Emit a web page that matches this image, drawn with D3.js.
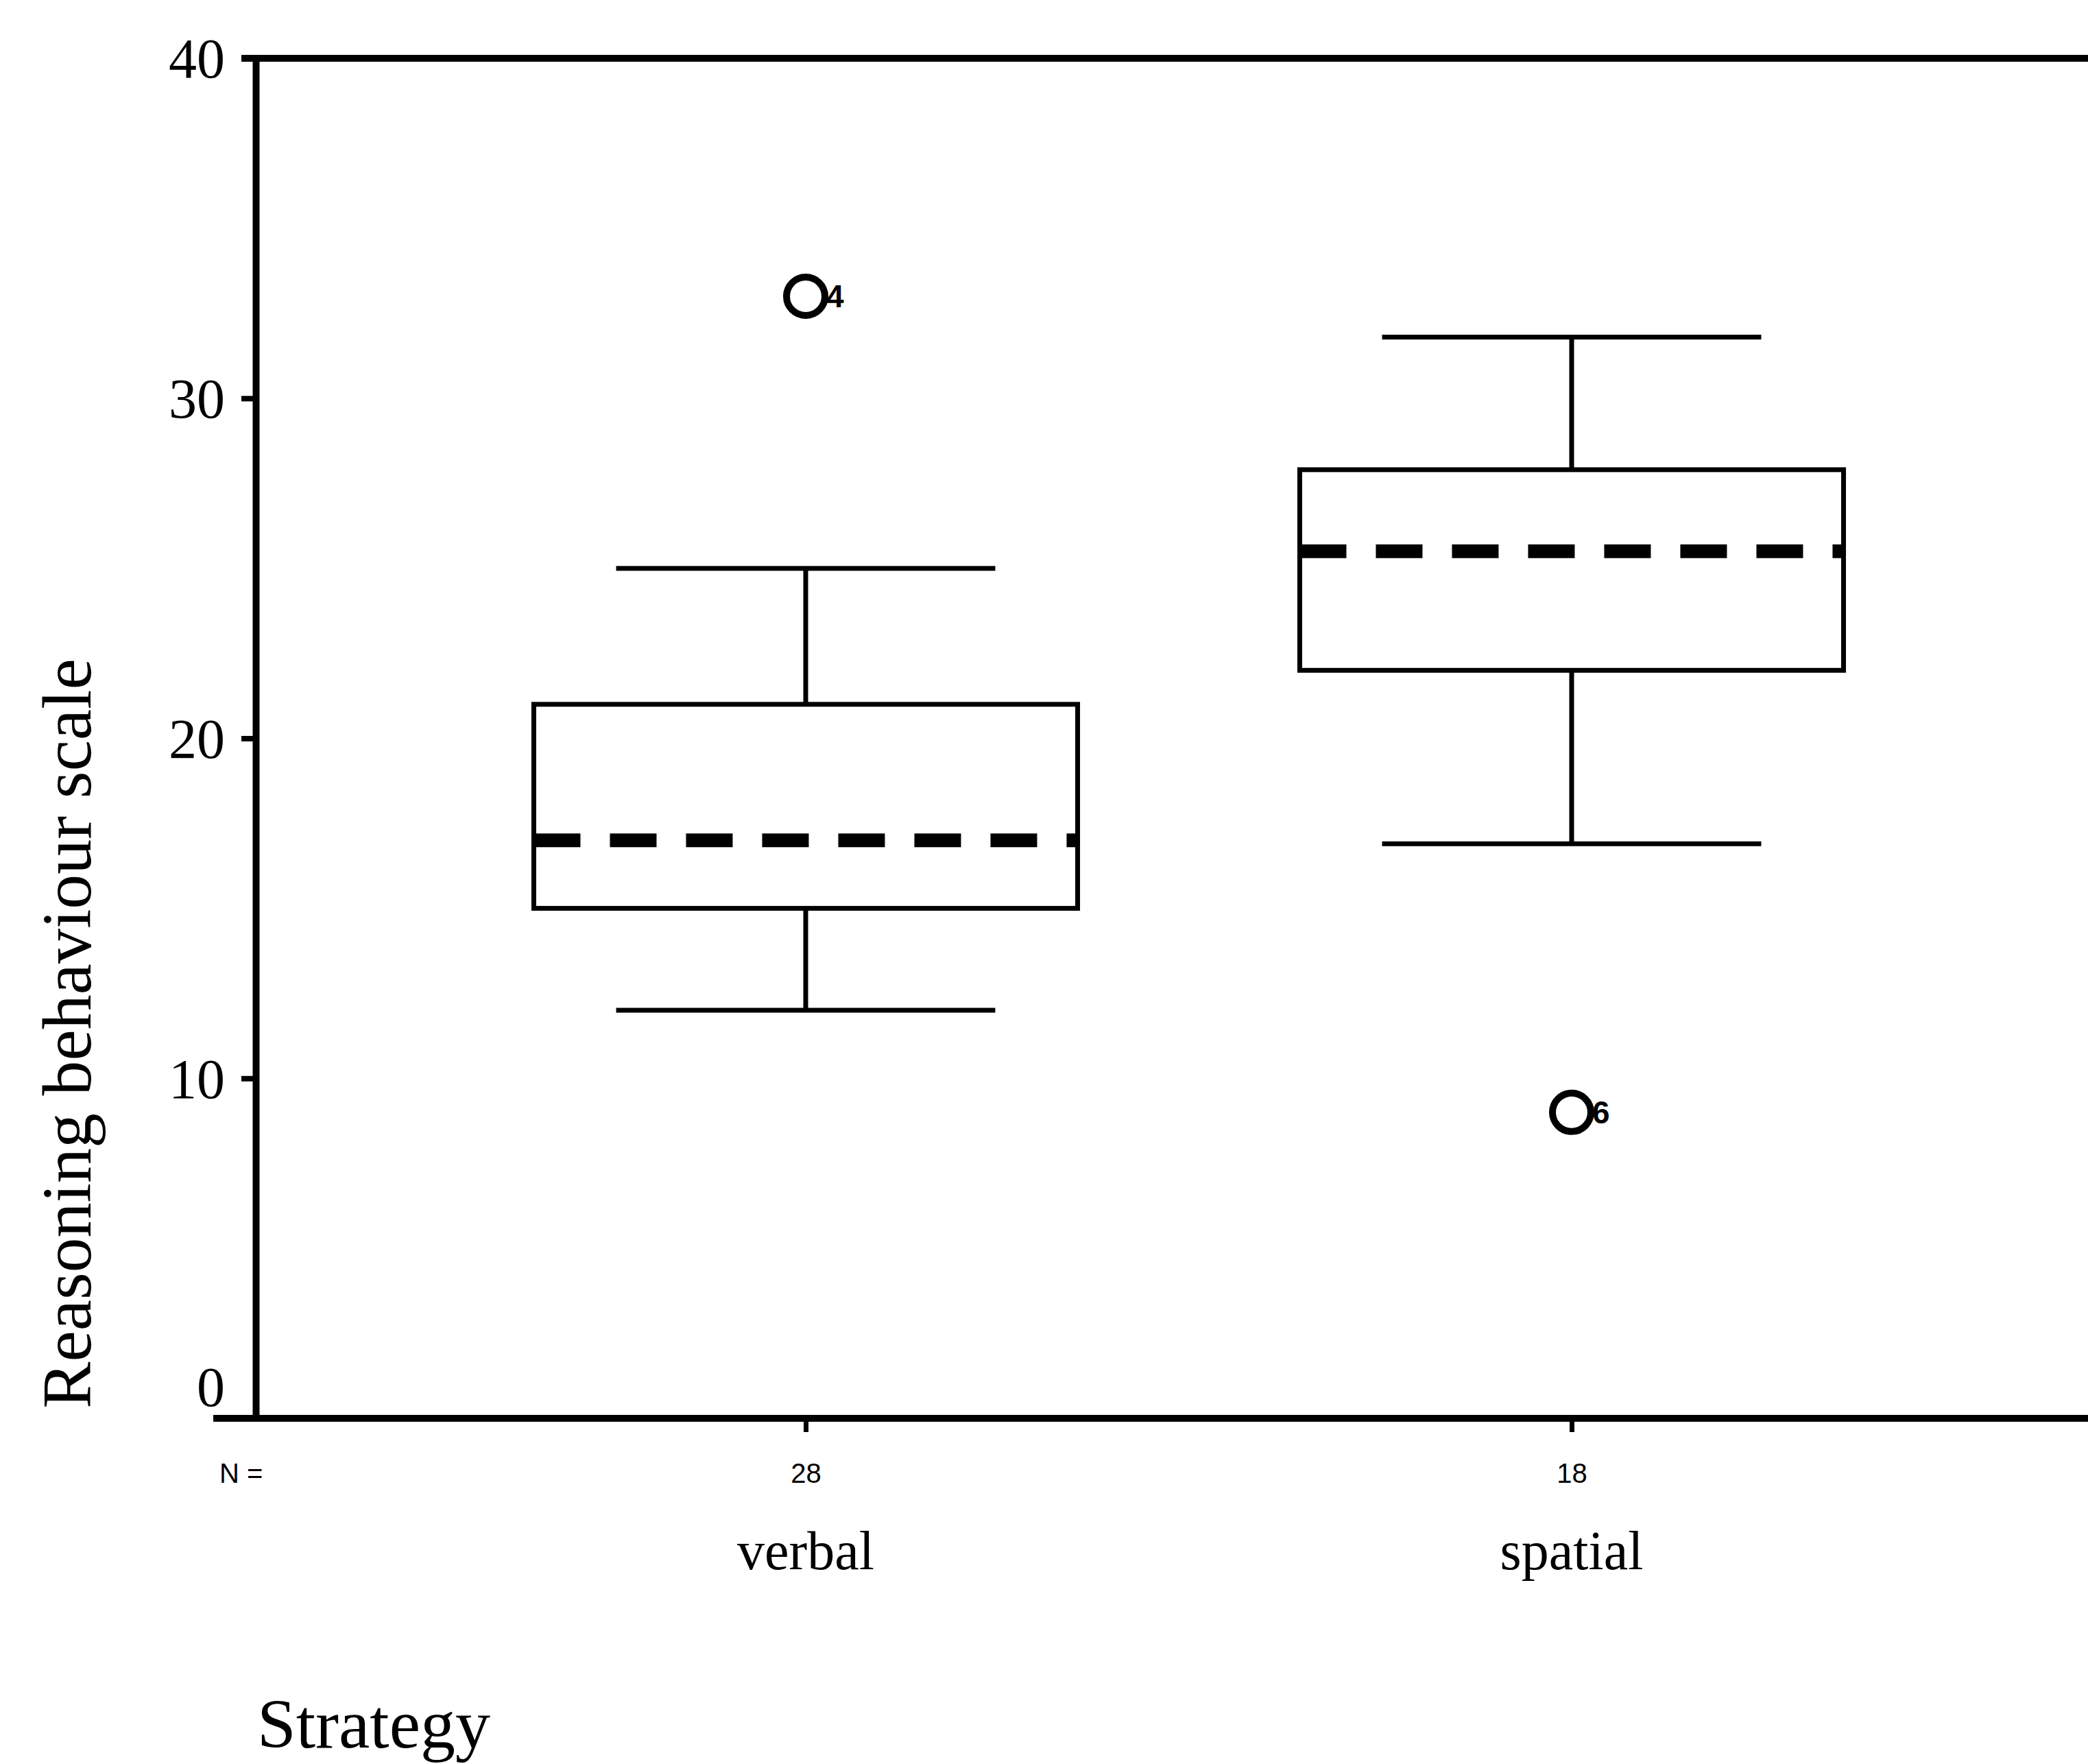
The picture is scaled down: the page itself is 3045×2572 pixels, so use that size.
<html>
<head>
<meta charset="utf-8">
<title>Reasoning behaviour by strategy</title>
<script src="https://cdn.jsdelivr.net/npm/d3@7"></script>
<style>
  body { margin: 0; background: #fff; }
  text { fill: #000; }
  .axis path, .axis line { stroke: #000; }
</style>
</head>
<body>
<script>
// ---- data ----
var categories = ["verbal", "spatial"];
var nCounts = ["28", "18"];
var whiskerLow = [12, 16.9];
var q1 = [15, 22];
var medians = [17, 25.5];
var q3 = [21, 27.9];
var whiskerHigh = [25, 31.8];
var outlierValue = [33, 9];
var outlierLabel = ["4", "6"];
var yTicks = [0, 10, 20, 30, 40];

// ---- layout ----
var width = 3045, height = 2572;
var plotLeft = 373, plotTop = 85, plotBottom = 2068, plotRight = 3094;

var svg = d3.select("body").append("svg")
  .attr("width", width).attr("height", height);

var y = d3.scaleLinear().domain([0, 40]).range([plotBottom, plotTop]);
var x = d3.scalePoint().domain(categories).range([plotLeft, plotRight]).padding(0.718);
var step = x.step();
var boxW = step * 0.71;
var capW = step * 0.495;

// frame lines (top + bottom run off the right edge)
svg.append("line").attr("x1", plotLeft - 21).attr("x2", width + 10)
  .attr("y1", plotTop).attr("y2", plotTop).attr("stroke", "#000").attr("stroke-width", 10);
svg.append("line").attr("x1", plotLeft - 62).attr("x2", width + 10)
  .attr("y1", plotBottom).attr("y2", plotBottom).attr("stroke", "#000").attr("stroke-width", 10);

// y axis
var yAxis = d3.axisLeft(y).tickValues(yTicks).tickSize(21).tickPadding(24).tickSizeOuter(0);
var gy = svg.append("g").attr("class", "axis").attr("transform", "translate(" + plotLeft + ",0)").call(yAxis);
gy.select(".domain").attr("stroke-width", 10);
gy.selectAll(".tick line").attr("stroke-width", 8);
gy.selectAll(".tick text")
  .attr("font-family", "Liberation Serif, Times New Roman, serif")
  .attr("font-size", 82)
  .attr("dy", function(d){ return d === 0 ? "-0.22em" : "0.34em"; });

// x axis with N counts as tick text
var xAxis = d3.axisBottom(x).tickSize(20).tickPadding(46).tickSizeOuter(0)
  .tickFormat(function(d, i){ return nCounts[i]; });
var gx = svg.append("g").attr("class", "axis").attr("transform", "translate(0," + plotBottom + ")").call(xAxis);
gx.select(".domain").remove();
gx.selectAll(".tick line").attr("stroke-width", 7);
gx.selectAll(".tick text")
  .attr("font-family", "Liberation Sans Narrow, Liberation Sans, sans-serif")
  .attr("font-stretch", "condensed")
  .attr("font-size", 40);

svg.append("text").attr("x", 320).attr("y", 2162)
  .attr("font-family", "Liberation Sans Narrow, Liberation Sans, sans-serif")
  .attr("font-stretch", "condensed")
  .attr("font-size", 40).text("N =");

// category labels
svg.selectAll(".cat").data(categories).enter().append("text")
  .attr("class", "cat")
  .attr("x", function(d){ return x(d); })
  .attr("y", 2288)
  .attr("text-anchor", "middle")
  .attr("font-family", "Liberation Serif, Times New Roman, serif")
  .attr("font-size", 80)
  .text(function(d){ return d; });

// boxes
var boxes = svg.selectAll(".box").data(categories).enter().append("g").attr("class", "box");

boxes.append("line")
  .attr("x1", function(d){ return x(d); }).attr("x2", function(d){ return x(d); })
  .attr("y1", function(d, i){ return y(whiskerHigh[i]); })
  .attr("y2", function(d, i){ return y(q3[i]); })
  .attr("stroke", "#000").attr("stroke-width", 7);
boxes.append("line")
  .attr("x1", function(d){ return x(d); }).attr("x2", function(d){ return x(d); })
  .attr("y1", function(d, i){ return y(q1[i]); })
  .attr("y2", function(d, i){ return y(whiskerLow[i]); })
  .attr("stroke", "#000").attr("stroke-width", 7);
boxes.append("line")
  .attr("x1", function(d){ return x(d) - capW / 2; }).attr("x2", function(d){ return x(d) + capW / 2; })
  .attr("y1", function(d, i){ return y(whiskerHigh[i]); })
  .attr("y2", function(d, i){ return y(whiskerHigh[i]); })
  .attr("stroke", "#000").attr("stroke-width", 7);
boxes.append("line")
  .attr("x1", function(d){ return x(d) - capW / 2; }).attr("x2", function(d){ return x(d) + capW / 2; })
  .attr("y1", function(d, i){ return y(whiskerLow[i]); })
  .attr("y2", function(d, i){ return y(whiskerLow[i]); })
  .attr("stroke", "#000").attr("stroke-width", 7);
boxes.append("rect")
  .attr("x", function(d){ return x(d) - boxW / 2; })
  .attr("y", function(d, i){ return y(q3[i]); })
  .attr("width", boxW)
  .attr("height", function(d, i){ return y(q1[i]) - y(q3[i]); })
  .attr("fill", "#fff").attr("stroke", "#000").attr("stroke-width", 7);
boxes.append("line")
  .attr("x1", function(d){ return x(d) - boxW / 2; }).attr("x2", function(d){ return x(d) + boxW / 2; })
  .attr("y1", function(d, i){ return y(medians[i]); })
  .attr("y2", function(d, i){ return y(medians[i]); })
  .attr("stroke", "#000").attr("stroke-width", 20).attr("stroke-dasharray", "68,43");

// outliers
boxes.append("circle")
  .attr("cx", function(d){ return x(d); })
  .attr("cy", function(d, i){ return y(outlierValue[i]); })
  .attr("r", 28)
  .attr("fill", "none").attr("stroke", "#000").attr("stroke-width", 10);
boxes.append("text")
  .attr("x", function(d){ return x(d) + 30; })
  .attr("y", function(d, i){ return y(outlierValue[i]) + 16; })
  .attr("font-family", "Liberation Sans Narrow, Liberation Sans, sans-serif")
  .attr("font-stretch", "condensed")
  .attr("font-weight", "bold")
  .attr("font-size", 46)
  .text(function(d, i){ return outlierLabel[i]; });

// axis titles
svg.append("text")
  .attr("transform", "translate(132,1507) rotate(-90)")
  .attr("text-anchor", "middle")
  .attr("font-family", "Liberation Serif, Times New Roman, serif")
  .attr("font-size", 102)
  .text("Reasoning behaviour scale");
svg.append("text")
  .attr("x", 375).attr("y", 2548)
  .attr("font-family", "Liberation Serif, Times New Roman, serif")
  .attr("font-size", 102)
  .text("Strategy");
</script>
</body>
</html>
